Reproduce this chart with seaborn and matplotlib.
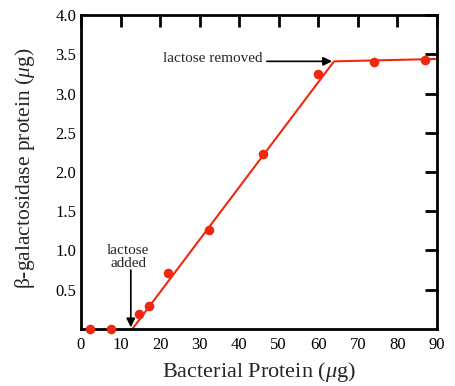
import matplotlib
matplotlib.use("Agg")
import matplotlib.pyplot as plt
import seaborn as sns
import pandas as pd

# data
bact_protein = [2.3, 7.6, 14.6, 17.2, 22.0, 32.3, 46.0, 59.9, 74.1, 86.9]
beta_gal = [0.0, 0.0, 0.19, 0.29, 0.71, 1.26, 2.23, 3.25, 3.40, 3.43]
fit_x = [13.0, 64.0, 90.0]
fit_y = [0.0, 3.41, 3.44]
x_ticks = [0, 10, 20, 30, 40, 50, 60, 70, 80, 90]
y_ticks = [0.5, 1.0, 1.5, 2.0, 2.5, 3.0, 3.5, 4.0]

sns.set_theme(style="white")
plt.rcParams["font.family"] = ["Liberation Serif", "DejaVu Serif"]
plt.rcParams["mathtext.fontset"] = "custom"
plt.rcParams["mathtext.it"] = "Liberation Serif:italic"
plt.rcParams["mathtext.rm"] = "Liberation Serif"

red = "#F0280F"
fig = plt.figure(figsize=(4.55, 3.86), dpi=100)
ax = fig.add_axes([0.178, 0.148, 0.782, 0.813])

df_pts = pd.DataFrame({"x": bact_protein, "y": beta_gal})
df_fit = pd.DataFrame({"x": fit_x, "y": fit_y})
sns.lineplot(data=df_fit, x="x", y="y", ax=ax, color=red, lw=1.5, zorder=2)
sns.scatterplot(data=df_pts, x="x", y="y", ax=ax, color=red, s=48,
                edgecolor=red, linewidth=0, zorder=3, clip_on=False)

ax.set_xlim(0, 90)
ax.set_ylim(0, 4.0)
ax.set_xticks(x_ticks)
ax.set_yticks(y_ticks)
ax.set_xticklabels([str(v) for v in x_ticks])
ax.set_yticklabels([f"{v:.1f}" for v in y_ticks])
ax.tick_params(direction="in", length=8.5, width=2, top=True, right=True,
               labelsize=12, colors="black")
ax.tick_params(axis="x", pad=5.5)
ax.tick_params(axis="y", pad=3.5)
for sp in ax.spines.values():
    sp.set_linewidth(2)
    sp.set_color("black")

ax.set_xlabel(r"Bacterial Protein ($\mu$g)", fontsize=16)
ax.set_ylabel(r"β-galactosidase protein ($\mu$g)", fontsize=15.5)
ax.xaxis.set_label_coords(0.5, -0.098)
ax.yaxis.set_label_coords(-0.123, 0.51)

ax.text(46.0, 3.445, "lactose removed", ha="right", va="center", fontsize=11)
ax.annotate("", xy=(63.5, 3.41), xytext=(47.0, 3.41),
            arrowprops=dict(arrowstyle="-|>", color="black", lw=1.2,
                            mutation_scale=13, shrinkA=0, shrinkB=0))
ax.text(11.9, 0.75, "lactose\nadded", ha="center", va="bottom", fontsize=11,
        linespacing=1.0)
ax.annotate("", xy=(12.6, 0.02), xytext=(12.6, 0.75),
            arrowprops=dict(arrowstyle="-|>", color="black", lw=1.2,
                            mutation_scale=13, shrinkA=0, shrinkB=0))

fig.savefig("out.png", dpi=100)
